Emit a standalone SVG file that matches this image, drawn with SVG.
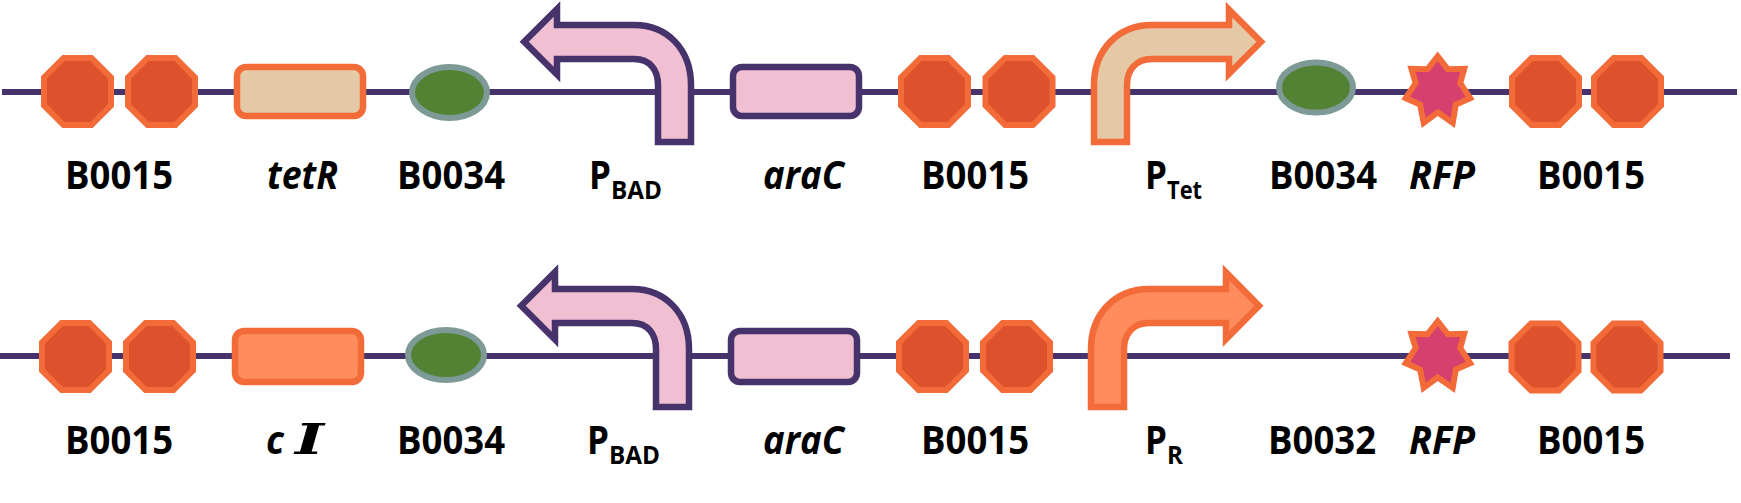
<svg xmlns="http://www.w3.org/2000/svg" width="1741" height="503" viewBox="0 0 1741 503">
<style>
.bb{stroke:#47336B;stroke-width:6;fill:none}
.oct{fill:#DD512C;stroke:#F26B38;stroke-width:6}
.rbs{fill:#548235;stroke:#7D9A96;stroke-width:6}
.star{fill:#D63F6E;stroke:#F26B38;stroke-width:6;stroke-miterlimit:10}
.pur{fill:#F0BFD2;stroke:#47336B;stroke-width:6.5;stroke-miterlimit:10}
.tan{fill:#E5C8A6;stroke:#F26B38;stroke-width:6.5;stroke-miterlimit:10}
.or{fill:#FF8C5C;stroke:#F26B38;stroke-width:6.5;stroke-miterlimit:10}
text{font-family:"Open Sans","Noto Sans","Liberation Sans",sans-serif;font-weight:700;font-size:38.5px;fill:#000}
.i{font-style:italic}
.s{font-size:25px}
.ci{font-family:"DejaVu Serif","Liberation Serif",serif;font-style:italic;font-size:42px}
</style>
<defs>
<polygon id="o" points="-13.9,-33.5 13.9,-33.5 33.5,-13.9 33.5,13.9 13.9,33.5 -13.9,33.5 -33.5,13.9 -33.5,-13.9"/>
<polygon id="st" points="0,-37 10.2,-24 26.5,-24.5 22.5,-10.2 32.5,4.8 18.1,11.2 15,29.5 0,19.1 -14,29.5 -17.6,11.2 -32,4.8 -22,-10.2 -26.3,-24.5 -10.3,-24"/>
</defs>
<g id="connectors">
<line class="bb" x1="2" y1="92" x2="1737" y2="92"/>
<line class="bb" x1="0" y1="356" x2="1730" y2="356"/>
</g>
<g id="r1-b0015-a">
<use href="#o" class="oct" x="77.5" y="91.5"/><use href="#o" class="oct" x="161.5" y="91.5"/>
<text x="65" y="189" textLength="108" lengthAdjust="spacingAndGlyphs">B0015</text>
</g>
<g id="r1-tetR">
<rect class="tan" x="237" y="67" width="126" height="49" rx="9"/>
<text class="i" x="267" y="189" textLength="71" lengthAdjust="spacingAndGlyphs">tetR</text>
</g>
<g id="r1-b0034-a">
<ellipse class="rbs" cx="449.5" cy="92.5" rx="37.5" ry="25.5"/>
<text x="397" y="189" textLength="108" lengthAdjust="spacingAndGlyphs">B0034</text>
</g>
<g id="r1-pbad">
<path class="pur" d="M524.2,41.7 L557,9 V25 H634 C668,25 691,50 691,85 V142 H658 V85 C658,70 650,59 634,59 H557 V74.5 Z"/>
<text x="589" y="189" textLength="22" lengthAdjust="spacingAndGlyphs">P</text>
<text class="s" x="611" y="199" textLength="51" lengthAdjust="spacingAndGlyphs">BAD</text>
</g>
<g id="r1-araC">
<rect class="pur" x="733" y="67" width="126" height="49" rx="9"/>
<text class="i" x="763" y="189" textLength="81" lengthAdjust="spacingAndGlyphs">araC</text>
</g>
<g id="r1-b0015-b">
<use href="#o" class="oct" x="934.5" y="91.5"/><use href="#o" class="oct" x="1019" y="91.5"/>
<text x="921" y="189" textLength="108" lengthAdjust="spacingAndGlyphs">B0015</text>
</g>
<g id="r1-ptet">
<path class="tan" d="M1261,41.7 L1229,9.7 V25 H1152 C1118,25 1094,50 1094,85 V142 H1127 V85 C1127,70 1136,59 1152,59 H1229 V73.7 Z"/>
<text x="1145" y="189" textLength="22" lengthAdjust="spacingAndGlyphs">P</text>
<text class="s" x="1167" y="199" textLength="35" lengthAdjust="spacingAndGlyphs">Tet</text>
</g>
<g id="r1-b0034-b">
<ellipse class="rbs" cx="1316" cy="87.5" rx="37" ry="25"/>
<text x="1269" y="189" textLength="108" lengthAdjust="spacingAndGlyphs">B0034</text>
</g>
<g id="r1-rfp">
<use href="#st" class="star" x="1437.7" y="93.3"/>
<text class="i" x="1409" y="189" textLength="66" lengthAdjust="spacingAndGlyphs">RFP</text>
</g>
<g id="r1-b0015-c">
<use href="#o" class="oct" x="1545.5" y="91.5"/><use href="#o" class="oct" x="1627.5" y="91.5"/>
<text x="1537" y="189" textLength="108" lengthAdjust="spacingAndGlyphs">B0015</text>
</g>
<g id="r2-b0015-a">
<use href="#o" class="oct" x="75.5" y="356.5"/><use href="#o" class="oct" x="159.5" y="356.5"/>
<text x="65" y="454" textLength="108" lengthAdjust="spacingAndGlyphs">B0015</text>
</g>
<g id="r2-cI">
<rect class="or" x="235" y="331" width="126" height="51" rx="9"/>
<text class="i" x="266" y="454" textLength="18" lengthAdjust="spacingAndGlyphs">c</text>
<text class="ci" x="295" y="454" textLength="29" lengthAdjust="spacingAndGlyphs">I</text>
</g>
<g id="r2-b0034">
<ellipse class="rbs" cx="446" cy="355" rx="38" ry="25"/>
<text x="397" y="454" textLength="108" lengthAdjust="spacingAndGlyphs">B0034</text>
</g>
<g id="r2-pbad">
<path class="pur" d="M521.2,305.7 L555,272 V289 H632 C666,289 689,314 689,349 V407 H656 V349 C656,334 648,323 632,323 H555 V339.5 Z"/>
<text x="587" y="454" textLength="22" lengthAdjust="spacingAndGlyphs">P</text>
<text class="s" x="609" y="464" textLength="51" lengthAdjust="spacingAndGlyphs">BAD</text>
</g>
<g id="r2-araC">
<rect class="pur" x="731" y="331" width="126" height="51" rx="9"/>
<text class="i" x="763" y="454" textLength="81" lengthAdjust="spacingAndGlyphs">araC</text>
</g>
<g id="r2-b0015-b">
<use href="#o" class="oct" x="932.5" y="356.5"/><use href="#o" class="oct" x="1016.5" y="356.5"/>
<text x="921" y="454" textLength="108" lengthAdjust="spacingAndGlyphs">B0015</text>
</g>
<g id="r2-pr">
<path class="or" d="M1259,305.7 L1226,272.5 V289 H1149 C1115,289 1091,314 1091,349 V407 H1124 V349 C1124,334 1133,323 1149,323 H1226 V339 Z"/>
<text x="1145" y="454" textLength="22" lengthAdjust="spacingAndGlyphs">P</text>
<text class="s" x="1167" y="464" textLength="16" lengthAdjust="spacingAndGlyphs">R</text>
</g>
<g id="r2-b0032">
<text x="1268" y="454" textLength="108" lengthAdjust="spacingAndGlyphs">B0032</text>
</g>
<g id="r2-rfp">
<use href="#st" class="star" x="1437.7" y="358.3"/>
<text class="i" x="1409" y="454" textLength="66" lengthAdjust="spacingAndGlyphs">RFP</text>
</g>
<g id="r2-b0015-c">
<use href="#o" class="oct" x="1545" y="357"/><use href="#o" class="oct" x="1627" y="357"/>
<text x="1537" y="454" textLength="108" lengthAdjust="spacingAndGlyphs">B0015</text>
</g>
</svg>
